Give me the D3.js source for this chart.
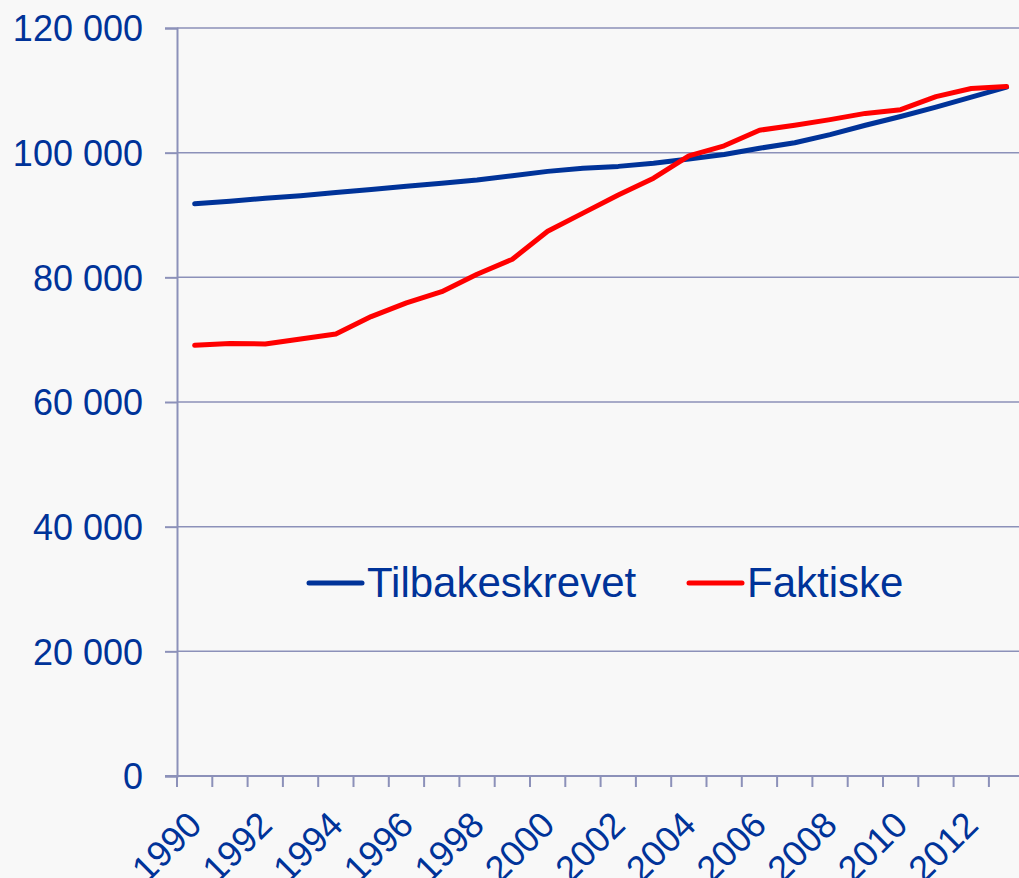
<!DOCTYPE html>
<html>
<head>
<meta charset="utf-8">
<script src="https://cdn.jsdelivr.net/npm/d3@7"></script>
<style>
  html, body { margin: 0; padding: 0; background: #f8f8f8; }
  text { font-family: "Liberation Sans", Arial, sans-serif; fill: #003399; }
</style>
</head>
<body>
<div id="chart"></div>
<script>
// years on the category axis
const years = d3.range(1990, 2014);
// only every other year gets a label
const yearLabels = years.filter(y => (y - 1990) % 2 === 0);
const yTicks = [0, 20000, 40000, 60000, 80000, 100000, 120000];

// series values (people)
const tilbakeskrevet = [91800, 92200, 92700, 93100, 93600, 94100, 94600, 95100, 95600, 96300,
                        97000, 97500, 97800, 98300, 99000, 99700, 100700, 101600, 102900, 104400,
                        105800, 107300, 108900, 110500];
const faktiske = [69100, 69400, 69300, 70100, 70900, 73700, 75900, 77700, 80500, 82900,
                  87400, 90300, 93200, 95900, 99500, 101100, 103600, 104400, 105300, 106300,
                  106900, 109000, 110300, 110600];

const seriesNames = ['Tilbakeskrevet', 'Faktiske'];
const seriesColors = ['#003399', '#ff0000'];

const width = 1019, height = 878;
const gridColor = '#8c91b9';

let svg = d3.select('#chart').append('svg')
    .attr('width', width)
    .attr('height', height);

let x = d3.scaleBand()
    .domain(years)
    .range([177, 177 + 35.3 * years.length])
    .padding(0);

let y = d3.scaleLinear()
    .domain([0, 120000])
    .range([776, 28]);

const fmt = v => d3.format(',')(v).replace(/,/g, ' ');

// y axis
let yAxis = d3.axisLeft(y)
    .tickValues(yTicks)
    .tickSize(12)
    .tickPadding(22)
    .tickFormat(fmt);

let gy = svg.append('g')
    .attr('transform', `translate(${x.range()[0]},0)`)
    .call(yAxis);
gy.select('.domain').attr('stroke', gridColor).attr('stroke-width', 2);
gy.selectAll('.tick line').attr('stroke', gridColor).attr('stroke-width', 2);
gy.selectAll('.tick text')
    .style('font-size', '36px')
    .attr('dy', '0.36em');

// horizontal grid lines
svg.append('g')
    .selectAll('line')
    .data(yTicks.filter(v => v > 0))
    .join('line')
        .attr('x1', x.range()[0])
        .attr('x2', width)
        .attr('y1', d => y(d))
        .attr('y2', d => y(d))
        .attr('stroke', gridColor)
        .attr('stroke-width', 1.5);

// x axis: ticks at category boundaries
let gx = svg.append('g');
gx.append('line')
    .attr('x1', x.range()[0] - 12)
    .attr('x2', width)
    .attr('y1', y(0))
    .attr('y2', y(0))
    .attr('stroke', gridColor)
    .attr('stroke-width', 2);
gx.selectAll('line.tk')
    .data(years)
    .join('line')
        .attr('class', 'tk')
        .attr('x1', d => x(d))
        .attr('x2', d => x(d))
        .attr('y1', y(0))
        .attr('y2', y(0) + 11)
        .attr('stroke', gridColor)
        .attr('stroke-width', 2);
gx.selectAll('text')
    .data(yearLabels)
    .join('text')
        .attr('transform', d => `translate(${x(d) + x.bandwidth() / 2 + 9},827) rotate(-45)`)
        .attr('text-anchor', 'end')
        .style('font-size', '36px')
        .text(d => d);

// lines
let line = d3.line()
    .x((d, i) => x(years[i]) + x.bandwidth() / 2)
    .y(d => y(d));

[tilbakeskrevet, faktiske].forEach((vals, k) => {
    svg.append('path')
        .datum(vals)
        .attr('fill', 'none')
        .attr('stroke', seriesColors[k])
        .attr('stroke-width', 5)
        .attr('stroke-linejoin', 'round')
        .attr('stroke-linecap', 'round')
        .attr('d', line);
});

// legend
let legendPos = [309, 689];
let legend = svg.append('g');
seriesNames.forEach((name, k) => {
    legend.append('line')
        .attr('x1', legendPos[k])
        .attr('x2', legendPos[k] + 53)
        .attr('y1', 583)
        .attr('y2', 583)
        .attr('stroke', seriesColors[k])
        .attr('stroke-width', 5)
        .attr('stroke-linecap', 'round');
    legend.append('text')
        .attr('x', legendPos[k] + 58)
        .attr('y', 597)
        .style('font-size', '42px')
        .text(name);
});
</script>
</body>
</html>
